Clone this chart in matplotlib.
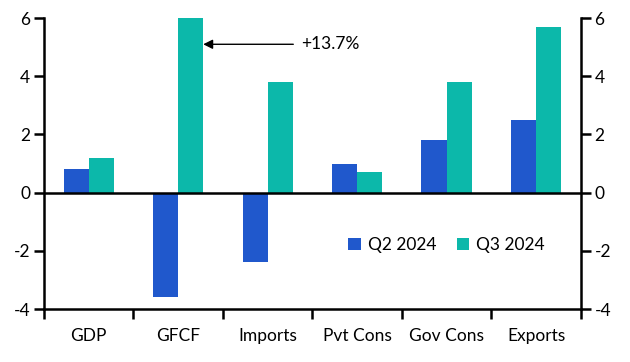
import matplotlib.pyplot as plt
import numpy as np

plt.rcParams['font.family'] = ['Lato', 'DejaVu Sans']

categories = ['GDP', 'GFCF', 'Imports', 'Pvt Cons', 'Gov Cons', 'Exports']
q2_2024 = [0.8, -3.6, -2.4, 1.0, 1.8, 2.5]
q3_2024 = [1.2, 13.7, 3.8, 0.7, 3.8, 5.7]
yticks = [-4, -2, 0, 2, 4, 6]

blue = '#2058cc'
teal = '#0cb8aa'

fig = plt.figure(figsize=(6.3, 3.62), dpi=100)
ax = fig.add_axes([0.0698, 0.1464, 0.852, 0.8036])

x = np.arange(len(categories))
w = 0.28
ax.bar(x - w/2, q2_2024, w, color=blue, label='Q2 2024')
ax.bar(x + w/2, q3_2024, w, color=teal, label='Q3 2024')

ax.set_ylim(-4, 6)
ax.set_xlim(-0.5, len(categories) - 0.5)
ax.axhline(0, color='black', lw=1.8)

ax.set_yticks(yticks)
ax.set_yticklabels([str(t) for t in yticks], fontsize=12.5)
ax.set_xticks(x)
ax.set_xticklabels(categories, fontsize=12.5)
ax.set_xticks(np.arange(-0.5, len(categories)), minor=True)
ax.tick_params(axis='x', which='major', length=0, pad=14)
ax.tick_params(axis='x', which='minor', length=7, width=1.8, direction='out')
ax.tick_params(axis='y', length=7, width=1.8, direction='out', pad=3,
               right=True, labelright=True)

for s in ['left', 'right', 'bottom']:
    ax.spines[s].set_linewidth(1.8)
ax.spines['top'].set_visible(False)

ax.annotate('+13.7%', xy=(1 + w, 5.1), xytext=(2.38, 5.1),
            fontsize=12.5, va='center', ha='left',
            arrowprops=dict(arrowstyle='-|>', color='black', lw=1,
                            mutation_scale=14, shrinkA=4, shrinkB=0))

ax.legend(loc='center', bbox_to_anchor=(0.75, 0.22), ncol=2, frameon=False,
          fontsize=12.5, handlelength=0.7, handleheight=0.7, handletextpad=0.4,
          columnspacing=1.2)

plt.savefig('out.png', dpi=100)
